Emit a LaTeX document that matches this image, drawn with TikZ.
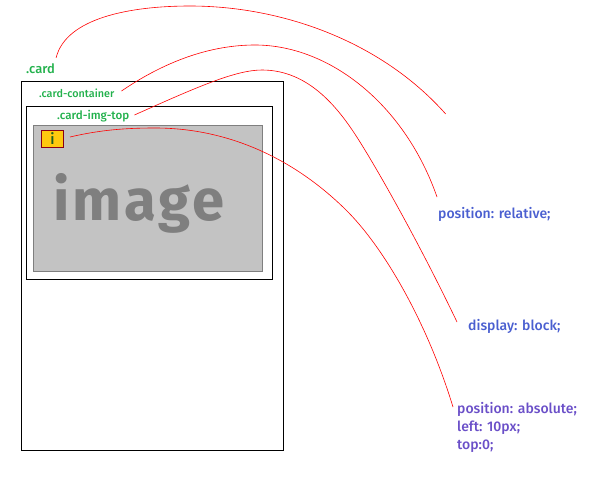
\documentclass[tikz,border=0pt]{standalone}
\usepackage{fontspec}
\setmainfont[BoldFont={Fira Sans Medium}]{Fira Sans}
\newfontfamily\imgfont{Fira Sans Bold}
\usetikzlibrary{positioning}
\usepackage{xcolor}
\definecolor{cardgreen}{HTML}{22B14C}
\definecolor{noteblue}{HTML}{4A5FD0}
\definecolor{notepurple}{HTML}{6A4FC8}
\definecolor{badgefill}{HTML}{FFC90E}
\definecolor{badgeline}{HTML}{880015}
\definecolor{badgetext}{HTML}{1F5F1F}
\definecolor{imgfill}{HTML}{C3C3C3}
\definecolor{imgline}{HTML}{7F7F7F}
\tikzstyle{diagram}=[
  x=1pt,y=-1pt,font=\small
]
\tikzstyle{box}=[
  draw,line width=1pt,inner sep=0pt,outer sep=0pt,anchor=north west
]
\tikzstyle{imgbox}=[
  draw=imgline,line width=1pt,fill=imgfill,inner sep=0pt,outer sep=0pt,anchor=north west
]
\tikzstyle{badge}=[
  draw=badgeline,line width=1pt,fill=badgefill,inner sep=0pt,outer sep=0pt,anchor=north west,
  minimum width=22pt,minimum height=17pt,text=badgetext,font=\bfseries\fontsize{15}{15}\selectfont
]
\tikzstyle{cardlabel}=[
  text=cardgreen,font=\bfseries\fontsize{13}{15}\selectfont,inner sep=3pt,anchor=west
]
\tikzstyle{smalllabel}=[
  cardlabel,font=\bfseries\fontsize{10.8}{13}\selectfont
]
\tikzstyle{note}=[
  text=noteblue,font=\bfseries\fontsize{14}{18}\selectfont,inner sep=2pt,anchor=north west,align=left
]
\tikzstyle{link}=[
  draw=red,line width=0.6pt
]
\begin{document}
\begin{tikzpicture}[diagram]
  \useasboundingbox (0,0) rectangle (606,498);
  \node (card) [box,minimum width=262pt,minimum height=369pt] at (21.5,81.5) {};
  \node (top) [box,minimum width=246pt,minimum height=173pt] at (26.5,106.5) {};
  \node (img) [imgbox,minimum width=229pt,minimum height=146pt] at (33.5,125.5) {};
  \node (imgtext) [text=imgline,anchor=base,font=\imgfont\fontsize{58}{58}\selectfont\addfontfeature{LetterSpace=4.8}] at (139,220) {image};
  \node (i) [badge] at (41.5,130.5) {i};
  % labels
  \node (cardlbl) [cardlabel] at (23,69) {.card};
  \node (contlbl) [smalllabel] at (36,93) {.card-container};
  \node (toplbl) [smalllabel,font=\bfseries\fontsize{11.6}{13}\selectfont] at (54,116.5) {.card-img-top};
  \node (relative) [note] at (436,205.5) {position: relative;};
  \node (block) [note] at (466,317.5) {display: block;};
  \node (absolute) [note,text=notepurple] at (455,400) {position: absolute;\\left: 10px;\\top:0;};
  \coordinate (free) at (445.7,114);
  \coordinate (relend) at (437,197);
  \coordinate (blockend) at (457,322);
  \coordinate (absend) at (453,407);
  \coordinate (p1) at (190,6);
  \coordinate (p2) at (255,45);
  \coordinate (p3) at (262,70);
  \coordinate (p3b) at (360,142);
  \coordinate (p4) at (155,128);
  \coordinate (p4b) at (345,209);
  \draw [link] (cardlbl.north east) ++(-2,-3) .. controls (66,18) and (130,6) .. (p1)
    .. controls (280,6) and (380,40) .. (free);
  \draw [link] (contlbl.east) ++(4,-2) .. controls (170,58) and (215,45) .. (p2)
    .. controls (330,45) and (405,105) .. (relend);
  \draw [link] (toplbl.east) ++(2,-1.5) .. controls (195,88) and (235,70) .. (p3)
    .. controls (310,70) and (340,110) .. (p3b)
    .. controls (385,182) and (425,255) .. (blockend);
  \draw [link] (i.east) ++(6.5,-2) .. controls (100,130) and (125,128) .. (p4)
    .. controls (230,128) and (295,160) .. (p4b)
    .. controls (385,248) and (428,325) .. (absend);
\end{tikzpicture}
\end{document}
